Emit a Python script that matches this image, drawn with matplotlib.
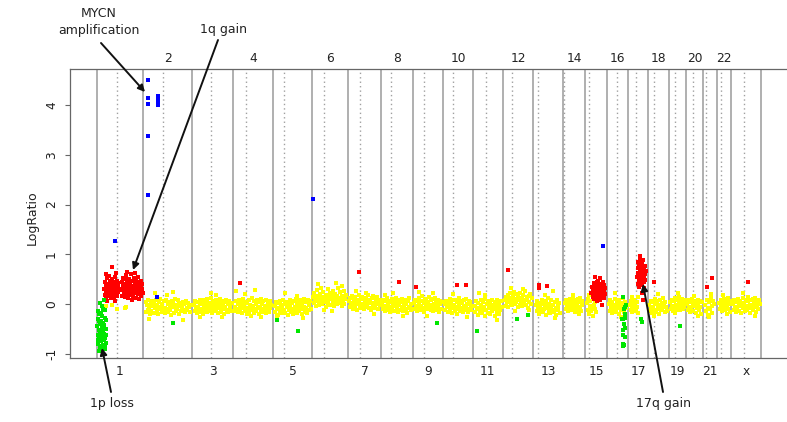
import matplotlib
matplotlib.use("Agg")
import matplotlib.pyplot as plt
import numpy as np

# ---------------- chromosome layout (Mb) ----------------
chrom_names = ['1', '2', '3', '4', '5', '6', '7', '8', '9', '10', '11', '12',
               '13', '14', '15', '16', '17', '18', '19', '20', '21', '22', 'X']
chrom_labels = ['1', '2', '3', '4', '5', '6', '7', '8', '9', '10', '11', '12',
                '13', '14', '15', '16', '17', '18', '19', '20', '21', '22', 'x']
chrom_len = [233, 243, 206, 200, 192, 180, 166, 158, 153, 147, 150, 153,
             147, 113, 108, 107, 97, 103, 87, 86, 70, 68, 151]
centromere = [103, 97, 93, 62, 52, 63, 60, 50, 56, 50, 65, 48,
              25, 6, 17, 48, 37, 33, 33, 35, 15, 18, 68]

# ---------------- probe data: (position in chromosome, Mb ; log ratio x100) ----------------
yellow_chr1 = [(48, -4), (75, -2), (100, -10), (142, -8), (147, -6)]
yellow_chr2 = [(11, 4), (14, -16), (18, -2), (22, -12), (25, 9), (29, -7), (33, -20), (36, 1), (40, -14), (44, 6),
               (47, -5), (51, -18), (55, 2), (58, -9), (62, 7), (66, -15), (69, -3), (73, -21), (77, 3), (80, -11),
               (84, 10), (88, -6), (91, -17), (95, 0), (99, -13), (102, 5), (106, -8), (110, -19), (113, 8), (117, -10),
               (121, -1), (124, -16), (128, 4), (132, -12), (135, -4), (139, -23), (143, 6), (146, -7), (150, 1), (154, -18),
               (157, 11), (161, -14), (165, -2), (168, -11), (172, 7), (176, -20), (179, 2), (183, -5), (187, -15), (190, 0),
               (194, -9), (198, 3), (201, -13), (205, -1), (209, -17), (212, 5), (216, -8), (220, -12), (224, 2), (228, -6),
               (232, -16), (236, -3), (60, 23), (150, 25), (200, -33), (30, -30), (120, 18)]
yellow_chr3 = [(10, -2), (13, -14), (17, 6), (20, -9), (24, -18), (27, 3), (31, -6), (34, -13), (38, 9), (41, -1),
               (45, -16), (48, 4), (52, -10), (55, -20), (59, 7), (62, -4), (66, -12), (69, 1), (73, -17), (76, 10),
               (80, -7), (83, -15), (87, 2), (90, -11), (94, 13), (97, -3), (101, -19), (104, 5), (108, -8), (111, -14),
               (115, 0), (118, 8), (122, -12), (125, -5), (129, -18), (132, 4), (136, -9), (139, 11), (143, -2), (146, -16),
               (150, 6), (153, -11), (157, -4), (160, -20), (164, 3), (167, -7), (171, 9), (174, -13), (178, -1), (181, -17),
               (185, 5), (188, -9), (192, -3), (195, -14), (198, 2), (93, 22), (40, -27), (150, -26), (120, 18)]
yellow_chr4 = [(8, -6), (11, -15), (15, 5), (18, -10), (22, -1), (25, -17), (29, 8), (32, -5), (36, -12), (39, 2),
               (43, -19), (46, -8), (50, 10), (53, -3), (57, -14), (60, 4), (64, -9), (67, -20), (71, 1), (74, -11),
               (78, 7), (81, -16), (85, -2), (88, -7), (92, 12), (95, -13), (99, -4), (102, -18), (106, 6), (109, -10),
               (113, 0), (116, -15), (120, 9), (123, -6), (127, -21), (130, 3), (134, -8), (137, -13), (141, 11), (144, -1),
               (148, -17), (151, 5), (155, -10), (158, -4), (162, -19), (165, 7), (169, -7), (172, -12), (176, 2), (179, -16),
               (183, 6), (186, -9), (190, -2), (12, 27), (108, 28), (60, 20), (140, -27), (90, -25)]
yellow_chr5 = [(8, -4), (11, -16), (15, 3), (18, -11), (22, -22), (25, 1), (29, -8), (32, -15), (36, 6), (39, -3),
               (43, -19), (46, -9), (50, 8), (53, -13), (57, -1), (60, -18), (64, 4), (67, -7), (71, -23), (74, 0),
               (78, -12), (81, 9), (85, -5), (88, -17), (92, 2), (95, -10), (99, -20), (102, 6), (106, -6), (109, -14),
               (113, 11), (116, -2), (120, -18), (123, 3), (127, -9), (130, -15), (134, 7), (137, -4), (141, -21), (144, 1),
               (148, -11), (151, 10), (155, -6), (158, -16), (162, 4), (165, -8), (169, -19), (172, 8), (176, -3), (179, -13),
               (183, 5), (186, -10), (60, 22), (150, -28), (20, -25), (120, 16)]
yellow_chr6 = [(6, 14), (9, 2), (13, 22), (16, 7), (20, -4), (23, 16), (27, 28), (30, 5), (34, 12), (37, -2),
               (41, 20), (44, 9), (48, 32), (51, 0), (55, 15), (58, 25), (62, 3), (65, 11), (69, -6), (72, 19),
               (76, 8), (79, 30), (83, 1), (86, 14), (90, 23), (93, -3), (97, 10), (100, 18), (104, 4), (107, 27),
               (111, -5), (114, 13), (118, 21), (121, 6), (125, -1), (128, 17), (132, 33), (135, 9), (139, 2), (142, 24),
               (146, 12), (149, -4), (153, 16), (156, 7), (160, 26), (163, 0), (167, 11), (170, 19), (30, 40), (120, 42),
               (100, -15), (60, -12), (150, 36)]
yellow_chr7 = [(6, 6), (9, -7), (13, 12), (16, -2), (20, 16), (23, 1), (27, -10), (30, 9), (34, -4), (37, 14),
               (41, 3), (44, -12), (48, 8), (51, -1), (55, 18), (58, 5), (62, -8), (65, 11), (69, -3), (72, 15),
               (76, 0), (79, -11), (83, 10), (86, 4), (90, -6), (93, 13), (97, -2), (100, 19), (104, 6), (107, -9),
               (111, 9), (114, 1), (118, -13), (121, 12), (125, -5), (128, 16), (132, 2), (135, -8), (139, 10), (142, -1),
               (146, 14), (149, 4), (153, -10), (156, 8), (159, -3), (40, 26), (130, -20), (90, 23)]
yellow_chr8 = [(5, 1), (8, -11), (12, 8), (15, -4), (19, -15), (22, 5), (26, -8), (29, 12), (33, -2), (36, -13),
               (40, 6), (43, -6), (47, -17), (50, 3), (54, 10), (57, -9), (61, -1), (64, -14), (68, 7), (71, -5),
               (75, 13), (78, -10), (82, 0), (85, -16), (89, 9), (92, -3), (96, -12), (99, 4), (103, 11), (106, -7),
               (110, -15), (113, 2), (117, -4), (120, 8), (124, -11), (127, -1), (131, -18), (134, 6), (138, -6), (141, 12),
               (145, -9), (148, 0), (152, -13), (60, 22), (110, -25), (20, 18)]
yellow_chr9 = [(6, 2), (9, -10), (13, 9), (16, -4), (20, -14), (23, 6), (27, -7), (30, 13), (34, -1), (37, -12),
               (41, 5), (44, -5), (48, 16), (51, -9), (55, 1), (58, -16), (62, 8), (65, -3), (69, 11), (72, -11),
               (76, 3), (79, -7), (83, 14), (86, -2), (90, -13), (93, 7), (97, -6), (100, 10), (104, -15), (107, 0),
               (111, 12), (114, -8), (118, 4), (121, -12), (125, 9), (128, -4), (132, -17), (135, 6), (139, -1), (142, -10),
               (145, 3), (30, 24), (100, 22), (70, -24)]
yellow_chr10 = [(8, -1), (11, -13), (15, 6), (18, -7), (22, -16), (25, 3), (29, -5), (32, 10), (36, -11), (39, 0),
                (43, -18), (46, 7), (50, -8), (53, -2), (57, -14), (60, 9), (64, -6), (67, -20), (71, 4), (74, -10),
                (78, 12), (81, -3), (85, -15), (88, 5), (92, -9), (95, 1), (99, -17), (102, 8), (106, -4), (109, -12),
                (113, 11), (116, -7), (120, -1), (123, -16), (127, 6), (130, -10), (134, 3), (137, -13), (141, -5),
                (50, 20), (120, -26)]
yellow_chr11 = [(11, -4), (14, -17), (18, 5), (21, -10), (25, -22), (28, 1), (32, -8), (35, -15), (39, 8), (42, -3),
                (46, -19), (49, -11), (53, 4), (56, -6), (60, -24), (63, 10), (67, -13), (70, -1), (74, -18), (77, 6),
                (81, -9), (84, -21), (88, 2), (91, -5), (95, -15), (98, 9), (102, -11), (105, -2), (109, -25), (112, 3),
                (116, -8), (119, -16), (123, 7), (126, -4), (130, -20), (133, 0), (137, -12), (140, 5), (144, -7),
                (30, 22), (120, -32), (60, 18)]
yellow_chr12 = [(11, 9), (14, -4), (18, 15), (21, 3), (25, 19), (28, -6), (32, 10), (35, 22), (39, 1), (42, 13),
                (46, -3), (49, 17), (53, 6), (56, 25), (60, -1), (63, 11), (67, 4), (70, 20), (74, -7), (77, 14),
                (81, 8), (84, -2), (88, 23), (91, 5), (95, 12), (98, -5), (102, 18), (105, 2), (109, 9), (112, 26),
                (116, -3), (119, 15), (123, 7), (126, -8), (130, 16), (133, 3), (137, 21), (140, 0), (144, 12),
                (40, 32), (100, 30), (60, -14), (130, -12)]
yellow_chr13 = [(13, -3), (16, -15), (20, 5), (23, -9), (27, -20), (30, 2), (34, -7), (37, -13), (41, 9), (44, -1),
                (48, -17), (51, 6), (55, -10), (58, -4), (62, -22), (65, 3), (69, -8), (72, 12), (76, -14), (79, 0),
                (83, -19), (86, 7), (90, -6), (93, -12), (97, 27), (100, -2), (104, -16), (107, 4), (111, -9), (114, -23),
                (118, 8), (121, -4), (125, -13), (128, 1), (132, -18), (60, 18), (110, -28)]
yellow_chr14 = [(11, 1), (14, -11), (18, 7), (21, -5), (25, -14), (28, 4), (32, -8), (35, 11), (39, -2), (42, -13),
                (46, 6), (49, -6), (53, 13), (56, -10), (60, 0), (63, -16), (67, 8), (70, -4), (74, 10), (77, -12),
                (81, 3), (84, -7), (88, 12), (91, -15), (95, 5), (98, -3), (50, 18), (80, -20)]
yellow_chr15 = [(8, 2), (11, -12), (15, 10), (18, -20), (22, -4), (25, 6), (29, -15), (32, -8), (36, 14), (39, -24),
                (43, -2), (46, -10), (50, 4), (53, -17), (20, 18), (40, -6)]
yellow_chr16 = [(10, -1), (13, -14), (17, 7), (20, -8), (24, -18), (27, 3), (31, -5), (34, -12), (38, 10), (41, -3),
                (45, -16), (48, 5), (52, -9), (55, -1), (59, -20), (62, 8), (66, -6), (69, -13), (73, 2), (76, -10),
                (80, 12), (83, -4), (87, -17), (90, 4), (94, -8), (40, 22), (70, -26)]
yellow_chr17 = [(8, -2), (11, -13), (14, 6), (17, -8), (20, -17), (23, 2), (26, -6), (29, 9), (32, -11), (35, -1),
                (38, -15), (41, 4), (44, -7), (47, -19), (50, 15), (20, 15)]
yellow_chr18 = [(7, -3), (10, -15), (14, 6), (17, -8), (21, -18), (24, 3), (28, -6), (31, -12), (35, 10), (38, -1),
                (42, -16), (45, 5), (49, -10), (52, -2), (56, -20), (59, 8), (63, -5), (66, -13), (70, 1), (73, -9),
                (77, 12), (80, -3), (84, -17), (87, 4), (91, -7), (94, -14), (50, 20), (30, -24)]
yellow_chr19 = [(8, 3), (11, -10), (15, 9), (18, -4), (22, -14), (25, 6), (29, -6), (32, 12), (36, -2), (39, -12),
                (43, 7), (46, -8), (50, 15), (53, -1), (57, -13), (60, 5), (64, -5), (67, 11), (71, -10), (74, 2),
                (78, -7), (81, 8), (45, 22), (30, -18)]
yellow_chr20 = [(6, 0), (9, -12), (13, 7), (16, -6), (20, -16), (23, 4), (27, -8), (30, 10), (34, -3), (37, -14),
                (41, 6), (44, -5), (48, -18), (51, 2), (55, -9), (58, 9), (62, -1), (65, -13), (69, 5), (72, -7),
                (76, -20), (79, 3), (40, 16), (60, -24)]
yellow_chr21 = [(10, -2), (14, -14), (18, 8), (22, -8), (26, -22), (30, 3), (34, -11), (38, 12), (42, -5), (46, -18),
                (50, 6), (54, -1), (28, -27), (40, 20), (36, -9)]
yellow_chr22 = [(10, 1), (13, -11), (17, 7), (20, -5), (24, -15), (27, 4), (31, -8), (34, 11), (38, -2), (41, -13),
                (45, 6), (48, -6), (52, 13), (55, -10), (59, 0), (62, -16), (65, 5), (30, 18), (50, -20)]
yellow_chrX = [(11, 0), (14, -12), (18, 8), (21, -6), (25, -17), (28, 4), (32, -9), (35, 11), (39, -2), (42, -14),
               (46, 6), (49, -5), (53, -19), (56, 2), (60, 13), (63, -8), (67, -1), (70, -15), (74, 9), (77, -4),
               (81, -12), (84, 5), (88, 14), (91, -9), (95, -2), (98, -18), (102, 7), (105, -6), (109, 10), (112, -13),
               (116, 1), (119, -7), (123, 12), (126, -16), (130, 3), (133, -4), (137, -11), (140, 8), (144, -1),
               (60, 22), (120, -24)]

yellow_by_chrom = [yellow_chr1, yellow_chr2, yellow_chr3, yellow_chr4, yellow_chr5, yellow_chr6, yellow_chr7,
                   yellow_chr8, yellow_chr9, yellow_chr10, yellow_chr11, yellow_chr12, yellow_chr13, yellow_chr14,
                   yellow_chr15, yellow_chr16, yellow_chr17, yellow_chr18, yellow_chr19, yellow_chr20, yellow_chr21,
                   yellow_chr22, yellow_chrX]

# gained regions (red)
red_chr1 = [(38, 30), (40, 18), (42, 45), (44, 25), (46, 38), (48, 14), (50, 52), (52, 32), (54, 22), (56, 41),
            (58, 28), (60, 56), (62, 17), (64, 35), (66, 47), (68, 24), (70, 39), (72, 13), (74, 30), (76, 50),
            (78, 21), (80, 36), (82, 44), (84, 27), (86, 15), (88, 42), (90, 33), (92, 55), (94, 20), (96, 38),
            (98, 29), (100, 46), (102, 16), (104, 34), (106, 25), (108, 43), (110, 31), (47, 60), (75, 75), (95, 62),
            (53, 5), (90, 6), (72, 38), (85, 30),
            (122, 28), (125, 44), (127, 17), (130, 36), (132, 52), (135, 24), (137, 40), (140, 14), (142, 32), (145, 58),
            (147, 22), (150, 45), (152, 30), (155, 12), (157, 38), (160, 50), (162, 26), (165, 42), (167, 18), (170, 34),
            (172, 60), (175, 27), (177, 46), (180, 15), (182, 37), (185, 53), (187, 23), (190, 41), (192, 31), (195, 13),
            (197, 48), (200, 28), (202, 39), (205, 20), (207, 55), (210, 33), (212, 44), (215, 25), (217, 36), (220, 16),
            (222, 47), (225, 30), (227, 40), (230, 22), (150, 65), (190, 63), (175, 8), (210, 10), (140, 50), (160, 20),
            (200, 45), (220, 35)]
red_chr15 = [(30, 22), (33, 35), (36, 14), (38, 28), (41, 42), (43, 18), (46, 31), (48, 24), (51, 38), (53, 12),
             (56, 45), (58, 27), (61, 20), (63, 34), (66, 16), (68, 40), (71, 25), (73, 52), (76, 30), (78, 19),
             (81, 36), (83, 23), (86, 44), (88, 14), (91, 29), (93, 38), (96, 21), (98, 33), (60, 5), (75, 8),
             (85, -2), (50, 55), (70, 30), (80, 26), (65, 47), (95, 12), (45, 10)]
red_chr17 = [(44, 55), (46, 72), (47, 40), (49, 85), (50, 62), (52, 47), (53, 78), (55, 35), (56, 66), (58, 90),
             (59, 52), (61, 74), (62, 42), (64, 83), (65, 58), (67, 68), (68, 38), (70, 80), (71, 50), (73, 64),
             (74, 88), (76, 45), (77, 70), (79, 56), (80, 32), (82, 76), (83, 60), (85, 48), (86, 67), (57, 97),
             (72, 8), (68, 22)]
red_single = [('4', 33, 43), ('7', 57, 65), ('8', 90, 44), ('9', 17, 34), ('10', 67, 38), ('10', 112, 38),
              ('12', 25, 68), ('13', 27, 38), ('13', 27, 32), ('13', 67, 36), ('18', 33, 44), ('21', 21, 35),
              ('21', 43, 52), ('X', 88, 45)]

# lost regions (green)
green_chr1 = [(3, -45), (5, -62), (7, -30), (8, -80), (10, -52), (12, -70), (13, -20), (15, -88), (17, -40), (18, -58),
              (20, -75), (22, -35), (23, -92), (25, -48), (27, -65), (28, -25), (30, -82), (32, -55), (33, -10), (35, -72),
              (37, -42), (38, -60), (40, -85), (42, -28), (43, -68), (45, -50), (47, -78), (6, -15), (16, 2), (26, -5),
              (36, 8), (11, -95), (21, -60), (31, -38), (41, -90), (46, -33), (4, -72), (14, -55), (24, -85), (34, -45),
              (44, -62), (9, -35), (19, -18), (29, -70), (39, -12)]
green_chr16 = [(80, 15), (92, -7), (87, -11), (82, -31), (92, -29), (85, -40), (82, -52), (80, -62), (78, -80),
               (82, -85), (91, -49), (76, -31), (88, -66), (84, -82), (90, -20), (95, -3)]
green_single = [('2', 150, -39), ('5', 17, -32), ('5', 122, -55), ('9', 120, -39), ('11', 20, -54),
                ('12', 70, -30), ('12', 125, -22), ('17', 62, -31), ('17', 67, -37), ('19', 55, -44)]

# amplifications (blue)
blue_points = [('1', 90, 127), ('2', 25, 451), ('2', 25, 414), ('2', 25, 402), ('2', 25, 338), ('2', 25, 219),
               ('2', 71, 418), ('2', 71, 412), ('2', 72, 406), ('2', 71, 401), ('2', 68, 15), ('6', 8, 211),
               ('15', 87, 117)]

# ---------------- figure ----------------
W, H = 787, 422
fig = plt.figure(figsize=(W / 100, H / 100), dpi=100)
ax = fig.add_axes([70 / W, (H - 358) / H, (W - 70) / W, 289 / H])

chrom_start = np.concatenate([[0], np.cumsum(chrom_len)[:-1]])
genome_len = float(np.sum(chrom_len))
px_per_mb = (761 - 96.7) / genome_len
ax.set_xlim((70 - 96.7) / px_per_mb, (W - 96.7) / px_per_mb)
ax.set_ylim(-1.087, 4.728)


def gpos(ch, p):
    return chrom_start[chrom_names.index(ch)] + p


# chromosome boundaries and centromeres
for i in range(len(chrom_names)):
    ax.axvline(chrom_start[i], color='#9a9a9a', lw=1.1, zorder=1)
    ax.axvline(chrom_start[i] + centromere[i], color='#a0a0a0', lw=1.0,
               linestyle=(0, (1, 2.2)), zorder=1)
ax.axvline(genome_len, color='#9a9a9a', lw=1.1, zorder=1)

ms = 8.5


def scatter_pairs(ch, pairs, color, z):
    xs = [gpos(ch, p) for p, v in pairs]
    ys = [v / 100 for p, v in pairs]
    ax.scatter(xs, ys, s=ms, marker='s', color=color, linewidths=0, zorder=z)


def scatter_triples(trip, color, z):
    xs = [gpos(c, p) for c, p, v in trip]
    ys = [v / 100 for c, p, v in trip]
    ax.scatter(xs, ys, s=ms, marker='s', color=color, linewidths=0, zorder=z)


YEL, RED, GRN, BLU = '#ffff00', '#ff0000', '#00e600', '#0000ff'
for ch, pts in zip(chrom_names, yellow_by_chrom):
    scatter_pairs(ch, pts, YEL, 2)
scatter_pairs('1', red_chr1, RED, 3)
scatter_pairs('15', red_chr15, RED, 3)
scatter_pairs('17', red_chr17, RED, 3)
scatter_triples(red_single, RED, 3)
scatter_pairs('1', green_chr1, GRN, 3)
scatter_pairs('16', green_chr16, GRN, 3)
scatter_triples(green_single, GRN, 3)
scatter_triples(blue_points, BLU, 4)

# axes styling
for s in ['top', 'bottom', 'left']:
    ax.spines[s].set_color('#666666')
    ax.spines[s].set_linewidth(0.9)
ax.spines['right'].set_visible(False)
ax.set_xticks([])
ax.set_yticks([-1, 0, 1, 2, 3, 4])
ax.set_yticklabels(['-1', '0', '1', '2', '3', '4'], rotation=90, va='center', fontsize=8.8, color='#222222')
ax.tick_params(axis='y', length=3.6, width=0.8, color='#666666', pad=5)

# chromosome labels: even on top, odd (and X) below
for i, lab in enumerate(chrom_labels):
    mid = chrom_start[i] + chrom_len[i] / 2
    if i % 2 == 1:
        ax.text(mid, 1 + 11 / 289, lab, transform=ax.get_xaxis_transform(), ha='center', va='center',
                fontsize=8.8, color='#222222')
    else:
        ax.text(mid, -13.7 / 289, lab, transform=ax.get_xaxis_transform(), ha='center', va='center',
                fontsize=8.8, color='#222222')

fig.text(32 / W, 1 - 218 / H, 'LogRatio', rotation=90, ha='center', va='center', fontsize=9, color='#222222')

# annotations
notes = [('MYCN\namplification', (99, 22), (101, 43), (145, 92)),
         ('1q gain', (223, 30), (218, 40), (133, 270)),
         ('1p loss', (112, 403), (111, 392), (102, 348)),
         ('17q gain', (663, 403), (663, 392), (643, 284))]
for txt, tpos, tail, head in notes:
    fig.text(tpos[0] / W, 1 - tpos[1] / H, txt, ha='center', va='center', fontsize=9,
             color='#222222', linespacing=1.45)
    ax.annotate('', xy=(head[0], H - head[1]), xycoords='figure pixels',
                xytext=(tail[0], H - tail[1]), textcoords='figure pixels',
                arrowprops=dict(arrowstyle='-|>', color='#111111', lw=1.4,
                                mutation_scale=10, shrinkA=0, shrinkB=0),
                annotation_clip=False, zorder=6)

fig.savefig('out.png', dpi=100)
